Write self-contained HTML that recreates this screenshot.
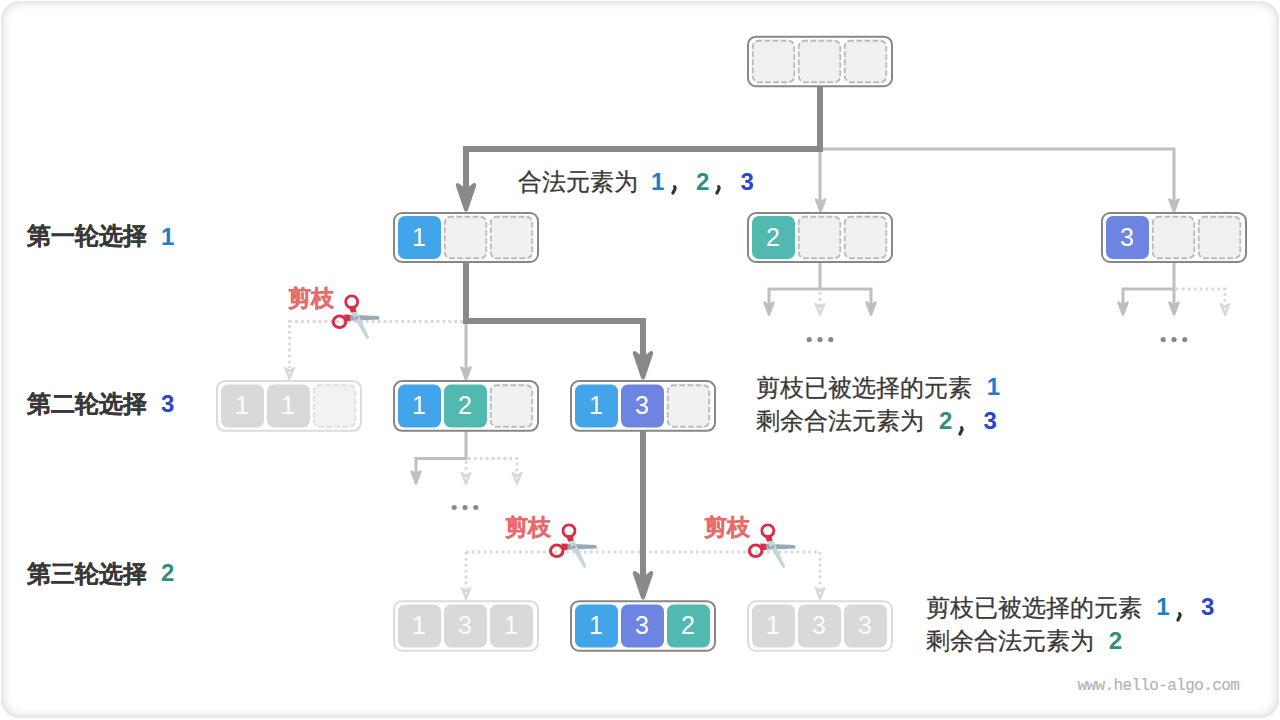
<!DOCTYPE html>
<html><head><meta charset="utf-8">
<style>
html,body{margin:0;padding:0;background:#fff;}
body{width:1280px;height:720px;position:relative;overflow:hidden;font-family:"Liberation Sans",sans-serif;}
.frame{position:absolute;left:1px;top:1px;width:1278px;height:717px;border-radius:19px;box-shadow:inset 0 0 11px rgba(0,0,0,0.21);}
svg{position:absolute;left:0;top:0;}
.cell{font-family:"Liberation Sans",sans-serif;font-size:25px;}
.t{position:absolute;white-space:nowrap;font-size:24px;line-height:24px;color:#383838;-webkit-text-stroke:0.25px #383838;}
.b{font-weight:bold;-webkit-text-stroke:0.15px #383838;}
.d{position:absolute;font-size:24px;line-height:24px;font-weight:bold;}
.cm{position:absolute;font-size:26px;line-height:26px;font-weight:bold;color:#333;}
.m{font-family:"Liberation Mono",monospace;font-weight:bold;}
.cb{color:#1a7fd0;} .ct{color:#2f8f7f;} .cp{color:#2b45c8;}
.cut{position:absolute;white-space:nowrap;font-size:23px;line-height:23px;font-weight:bold;color:#e96a6a;-webkit-text-stroke:0.35px #e96a6a;}
.wm{position:absolute;font-family:"Liberation Mono",monospace;font-size:16px;line-height:16px;letter-spacing:-0.62px;color:#b4b4b4;white-space:nowrap;-webkit-text-stroke:0.2px #b4b4b4;}
</style></head><body>
<div class="frame"></div>
<svg width="1280" height="720" viewBox="0 0 1280 720">
<path d="M820,149 H1174 V205 M820,149 V205" fill="none" stroke="#bfbfbf" stroke-width="3"/>
<path d="M816.0,199.5 L820.5,211.5 L825.0,199.5 L820.5,202.5 Z" fill="#bfbfbf" stroke="#bfbfbf" stroke-width="2.5" stroke-linejoin="round"/>
<path d="M1169.5,199.5 L1174,211.5 L1178.5,199.5 L1174,202.5 Z" fill="#bfbfbf" stroke="#bfbfbf" stroke-width="2.5" stroke-linejoin="round"/>
<path d="M820,86 V149 H466 V195" fill="none" stroke="#898989" stroke-width="6"/>
<path d="M457.75,185.0 L466,209.5 L474.25,185.0 L466,191.5 Z" fill="#898989" stroke="#898989" stroke-width="4" stroke-linejoin="round"/>
<path d="M820,262 V289 M769,305 V289 H871 V305" fill="none" stroke="#bfbfbf" stroke-width="3"/>
<path d="M764.5,302.5 L769,314.5 L773.5,302.5 L769,305.5 Z" fill="#bfbfbf" stroke="#bfbfbf" stroke-width="2.5" stroke-linejoin="round"/>
<path d="M866.5,302.5 L871,314.5 L875.5,302.5 L871,305.5 Z" fill="#bfbfbf" stroke="#bfbfbf" stroke-width="2.5" stroke-linejoin="round"/>
<path d="M815.4,303.8 L820,315.5 L824.6,303.8 L820,306.5 Z" fill="#d9d9d9" stroke="#d9d9d9" stroke-width="1.8" stroke-linejoin="round"/><path d="M818.9,308 L820,310.8 L821.1,308 Z" fill="#fff"/>
<path d="M820,292 V305" fill="none" stroke="#d9d9d9" stroke-width="2.8" stroke-dasharray="2.8 3.1"/>
<path d="M1174,262 V305 M1123,305 V289 H1174" fill="none" stroke="#bfbfbf" stroke-width="3"/>
<path d="M1118.5,302.5 L1123,314.5 L1127.5,302.5 L1123,305.5 Z" fill="#bfbfbf" stroke="#bfbfbf" stroke-width="2.5" stroke-linejoin="round"/>
<path d="M1169.5,302.5 L1174,314.5 L1178.5,302.5 L1174,305.5 Z" fill="#bfbfbf" stroke="#bfbfbf" stroke-width="2.5" stroke-linejoin="round"/>
<path d="M1176,289 H1225 V304" fill="none" stroke="#d9d9d9" stroke-width="2.8" stroke-dasharray="2.8 3.1"/>
<path d="M1220.4,303.8 L1225,315.5 L1229.6,303.8 L1225,306.5 Z" fill="#d9d9d9" stroke="#d9d9d9" stroke-width="1.8" stroke-linejoin="round"/><path d="M1223.9,308 L1225,310.8 L1226.1,308 Z" fill="#fff"/>
<circle cx="809.2" cy="339.5" r="2.6" fill="#888"/>
<circle cx="820" cy="339.5" r="2.6" fill="#888"/>
<circle cx="830.8" cy="339.5" r="2.6" fill="#888"/>
<circle cx="1163.2" cy="339.5" r="2.6" fill="#888"/>
<circle cx="1174" cy="339.5" r="2.6" fill="#888"/>
<circle cx="1184.8" cy="339.5" r="2.6" fill="#888"/>
<circle cx="454.2" cy="507.5" r="2.6" fill="#888"/>
<circle cx="465" cy="507.5" r="2.6" fill="#888"/>
<circle cx="475.8" cy="507.5" r="2.6" fill="#888"/>
<path d="M466,321 V370" fill="none" stroke="#bfbfbf" stroke-width="3"/>
<path d="M461.5,367.5 L466,379.5 L470.5,367.5 L466,370.5 Z" fill="#bfbfbf" stroke="#bfbfbf" stroke-width="2.5" stroke-linejoin="round"/>
<path d="M463,321.5 H289.5 V368" fill="none" stroke="#d9d9d9" stroke-width="2.8" stroke-dasharray="2.8 3.1"/>
<path d="M284.9,367.8 L289.5,379.5 L294.1,367.8 L289.5,370.5 Z" fill="#d9d9d9" stroke="#d9d9d9" stroke-width="1.8" stroke-linejoin="round"/><path d="M288.4,372 L289.5,374.8 L290.6,372 Z" fill="#fff"/>
<path d="M466,262 V321 H643 V360" fill="none" stroke="#898989" stroke-width="6"/>
<path d="M634.75,353.0 L643,377.5 L651.25,353.0 L643,359.5 Z" fill="#898989" stroke="#898989" stroke-width="4" stroke-linejoin="round"/>
<path d="M466,431 V458.5 H416 V474" fill="none" stroke="#bfbfbf" stroke-width="3"/>
<path d="M411.5,471.5 L416,483.5 L420.5,471.5 L416,474.5 Z" fill="#bfbfbf" stroke="#bfbfbf" stroke-width="2.5" stroke-linejoin="round"/>
<path d="M468,458.5 H517 V472 M466,461 V472" fill="none" stroke="#d9d9d9" stroke-width="2.8" stroke-dasharray="2.8 3.1"/>
<path d="M461.4,472.8 L466,484.5 L470.6,472.8 L466,475.5 Z" fill="#d9d9d9" stroke="#d9d9d9" stroke-width="1.8" stroke-linejoin="round"/><path d="M464.9,477 L466,479.8 L467.1,477 Z" fill="#fff"/>
<path d="M512.4,472.8 L517,484.5 L521.6,472.8 L517,475.5 Z" fill="#d9d9d9" stroke="#d9d9d9" stroke-width="1.8" stroke-linejoin="round"/><path d="M515.9,477 L517,479.8 L518.1,477 Z" fill="#fff"/>
<path d="M466,552 H820 M466,552 V588 M820,552 V588" fill="none" stroke="#d9d9d9" stroke-width="2.8" stroke-dasharray="2.8 3.1"/>
<path d="M461.4,587.8 L466,599.5 L470.6,587.8 L466,590.5 Z" fill="#d9d9d9" stroke="#d9d9d9" stroke-width="1.8" stroke-linejoin="round"/><path d="M464.9,592 L466,594.8 L467.1,592 Z" fill="#fff"/>
<path d="M815.4,587.8 L820,599.5 L824.6,587.8 L820,590.5 Z" fill="#d9d9d9" stroke="#d9d9d9" stroke-width="1.8" stroke-linejoin="round"/><path d="M818.9,592 L820,594.8 L821.1,592 Z" fill="#fff"/>
<path d="M643,431 V580" fill="none" stroke="#898989" stroke-width="6"/>
<path d="M634.75,573.0 L643,597.5 L651.25,573.0 L643,579.5 Z" fill="#898989" stroke="#898989" stroke-width="4" stroke-linejoin="round"/>
<rect x="748" y="36.7" width="144" height="49.5" rx="8" fill="#fff" stroke="#878787" stroke-width="2"/>
<rect x="752.75" y="40.7" width="41.5" height="41.5" rx="6" fill="#f1f1f1" stroke="#bcbcbc" stroke-width="1.9" stroke-dasharray="5.8 2.3" stroke-dashoffset="2.5"/>
<rect x="798.75" y="40.7" width="41.5" height="41.5" rx="6" fill="#f1f1f1" stroke="#bcbcbc" stroke-width="1.9" stroke-dasharray="5.8 2.3" stroke-dashoffset="2.5"/>
<rect x="844.75" y="40.7" width="41.5" height="41.5" rx="6" fill="#f1f1f1" stroke="#bcbcbc" stroke-width="1.9" stroke-dasharray="5.8 2.3" stroke-dashoffset="2.5"/>
<rect x="394" y="213" width="144" height="49" rx="8" fill="#fff" stroke="#878787" stroke-width="2"/>
<rect x="398" y="216.0" width="43" height="43" rx="7" fill="#42a4e9"/>
<text x="419" y="245.5" text-anchor="middle" class="cell" fill="#fff">1</text>
<rect x="444.75" y="216.75" width="41.5" height="41.5" rx="6" fill="#f1f1f1" stroke="#bcbcbc" stroke-width="1.9" stroke-dasharray="5.8 2.3" stroke-dashoffset="2.5"/>
<rect x="490.75" y="216.75" width="41.5" height="41.5" rx="6" fill="#f1f1f1" stroke="#bcbcbc" stroke-width="1.9" stroke-dasharray="5.8 2.3" stroke-dashoffset="2.5"/>
<rect x="748" y="213" width="144" height="49" rx="8" fill="#fff" stroke="#878787" stroke-width="2"/>
<rect x="752" y="216.0" width="43" height="43" rx="7" fill="#52b9b0"/>
<text x="773" y="245.5" text-anchor="middle" class="cell" fill="#fff">2</text>
<rect x="798.75" y="216.75" width="41.5" height="41.5" rx="6" fill="#f1f1f1" stroke="#bcbcbc" stroke-width="1.9" stroke-dasharray="5.8 2.3" stroke-dashoffset="2.5"/>
<rect x="844.75" y="216.75" width="41.5" height="41.5" rx="6" fill="#f1f1f1" stroke="#bcbcbc" stroke-width="1.9" stroke-dasharray="5.8 2.3" stroke-dashoffset="2.5"/>
<rect x="1102" y="213" width="144" height="49" rx="8" fill="#fff" stroke="#878787" stroke-width="2"/>
<rect x="1106" y="216.0" width="43" height="43" rx="7" fill="#6d84e0"/>
<text x="1127" y="245.5" text-anchor="middle" class="cell" fill="#fff">3</text>
<rect x="1152.75" y="216.75" width="41.5" height="41.5" rx="6" fill="#f1f1f1" stroke="#bcbcbc" stroke-width="1.9" stroke-dasharray="5.8 2.3" stroke-dashoffset="2.5"/>
<rect x="1198.75" y="216.75" width="41.5" height="41.5" rx="6" fill="#f1f1f1" stroke="#bcbcbc" stroke-width="1.9" stroke-dasharray="5.8 2.3" stroke-dashoffset="2.5"/>
<rect x="217" y="381.1" width="144" height="49.7" rx="8" fill="#fff" stroke="#dcdcdc" stroke-width="2"/>
<rect x="221" y="384.45000000000005" width="43" height="43" rx="7" fill="#d9d9d9"/>
<text x="242" y="413.95000000000005" text-anchor="middle" class="cell" fill="#fcfcfc">1</text>
<rect x="267" y="384.45000000000005" width="43" height="43" rx="7" fill="#d9d9d9"/>
<text x="288" y="413.95000000000005" text-anchor="middle" class="cell" fill="#fcfcfc">1</text>
<rect x="313.75" y="385.20000000000005" width="41.5" height="41.5" rx="6" fill="#f2f2f2" stroke="#e0e0e0" stroke-width="1.9" stroke-dasharray="5.8 2.3" stroke-dashoffset="2.5"/>
<rect x="394" y="381.1" width="144" height="49.7" rx="8" fill="#fff" stroke="#878787" stroke-width="2"/>
<rect x="398" y="384.45000000000005" width="43" height="43" rx="7" fill="#42a4e9"/>
<text x="419" y="413.95000000000005" text-anchor="middle" class="cell" fill="#fff">1</text>
<rect x="444" y="384.45000000000005" width="43" height="43" rx="7" fill="#52b9b0"/>
<text x="465" y="413.95000000000005" text-anchor="middle" class="cell" fill="#fff">2</text>
<rect x="490.75" y="385.20000000000005" width="41.5" height="41.5" rx="6" fill="#f1f1f1" stroke="#bcbcbc" stroke-width="1.9" stroke-dasharray="5.8 2.3" stroke-dashoffset="2.5"/>
<rect x="571" y="381.1" width="144" height="49.7" rx="8" fill="#fff" stroke="#878787" stroke-width="2"/>
<rect x="575" y="384.45000000000005" width="43" height="43" rx="7" fill="#42a4e9"/>
<text x="596" y="413.95000000000005" text-anchor="middle" class="cell" fill="#fff">1</text>
<rect x="621" y="384.45000000000005" width="43" height="43" rx="7" fill="#6d84e0"/>
<text x="642" y="413.95000000000005" text-anchor="middle" class="cell" fill="#fff">3</text>
<rect x="667.75" y="385.20000000000005" width="41.5" height="41.5" rx="6" fill="#f1f1f1" stroke="#bcbcbc" stroke-width="1.9" stroke-dasharray="5.8 2.3" stroke-dashoffset="2.5"/>
<rect x="394" y="601.2" width="144" height="49.5" rx="8" fill="#fff" stroke="#dcdcdc" stroke-width="2"/>
<rect x="398" y="604.45" width="43" height="43" rx="7" fill="#d9d9d9"/>
<text x="419" y="633.95" text-anchor="middle" class="cell" fill="#fcfcfc">1</text>
<rect x="444" y="604.45" width="43" height="43" rx="7" fill="#d9d9d9"/>
<text x="465" y="633.95" text-anchor="middle" class="cell" fill="#fcfcfc">3</text>
<rect x="490" y="604.45" width="43" height="43" rx="7" fill="#d9d9d9"/>
<text x="511" y="633.95" text-anchor="middle" class="cell" fill="#fcfcfc">1</text>
<rect x="571" y="601.2" width="144" height="49.5" rx="8" fill="#fff" stroke="#878787" stroke-width="2"/>
<rect x="575" y="604.45" width="43" height="43" rx="7" fill="#42a4e9"/>
<text x="596" y="633.95" text-anchor="middle" class="cell" fill="#fff">1</text>
<rect x="621" y="604.45" width="43" height="43" rx="7" fill="#6d84e0"/>
<text x="642" y="633.95" text-anchor="middle" class="cell" fill="#fff">3</text>
<rect x="667" y="604.45" width="43" height="43" rx="7" fill="#52b9b0"/>
<text x="688" y="633.95" text-anchor="middle" class="cell" fill="#fff">2</text>
<rect x="748" y="601.2" width="144" height="49.5" rx="8" fill="#fff" stroke="#dcdcdc" stroke-width="2"/>
<rect x="752" y="604.45" width="43" height="43" rx="7" fill="#d9d9d9"/>
<text x="773" y="633.95" text-anchor="middle" class="cell" fill="#fcfcfc">1</text>
<rect x="798" y="604.45" width="43" height="43" rx="7" fill="#d9d9d9"/>
<text x="819" y="633.95" text-anchor="middle" class="cell" fill="#fcfcfc">3</text>
<rect x="844" y="604.45" width="43" height="43" rx="7" fill="#d9d9d9"/>
<text x="865" y="633.95" text-anchor="middle" class="cell" fill="#fcfcfc">3</text>
<g transform="translate(356.7,318)">
<path d="M-7.8,-3.2 L21.7,-1.9 Q23.4,-0.2 22.7,1.6 L-6.8,2.8 Z" fill="#98aab5"/>
<path d="M-12.5,-3.6 L-6.5,-3.2 L-6.5,2.8 L-12,3.4 Z" fill="#dc2d46"/>
<ellipse cx="-17.2" cy="3.8" rx="6.3" ry="5.7" fill="none" stroke="#dc2d46" stroke-width="3"/>
<path d="M-6,-6 L-0.2,-7.5 L12.4,19.2 Q11.8,21.4 10,20.9 Z" fill="#c7d4dc"/>
<path d="M-8.2,-12 L-1.4,-12 L-0.4,-6.2 L-5.8,-5.6 Z" fill="#dc2d46"/>
<circle cx="-5" cy="-16.2" r="6" fill="none" stroke="#dc2d46" stroke-width="2.8"/>
<circle cx="0" cy="0" r="1.4" fill="#8a9ca7"/>
</g>
<g transform="translate(574,547)">
<path d="M-7.8,-3.2 L21.7,-1.9 Q23.4,-0.2 22.7,1.6 L-6.8,2.8 Z" fill="#98aab5"/>
<path d="M-12.5,-3.6 L-6.5,-3.2 L-6.5,2.8 L-12,3.4 Z" fill="#dc2d46"/>
<ellipse cx="-17.2" cy="3.8" rx="6.3" ry="5.7" fill="none" stroke="#dc2d46" stroke-width="3"/>
<path d="M-6,-6 L-0.2,-7.5 L12.4,19.2 Q11.8,21.4 10,20.9 Z" fill="#c7d4dc"/>
<path d="M-8.2,-12 L-1.4,-12 L-0.4,-6.2 L-5.8,-5.6 Z" fill="#dc2d46"/>
<circle cx="-5" cy="-16.2" r="6" fill="none" stroke="#dc2d46" stroke-width="2.8"/>
<circle cx="0" cy="0" r="1.4" fill="#8a9ca7"/>
</g>
<g transform="translate(772.8,547)">
<path d="M-7.8,-3.2 L21.7,-1.9 Q23.4,-0.2 22.7,1.6 L-6.8,2.8 Z" fill="#98aab5"/>
<path d="M-12.5,-3.6 L-6.5,-3.2 L-6.5,2.8 L-12,3.4 Z" fill="#dc2d46"/>
<ellipse cx="-17.2" cy="3.8" rx="6.3" ry="5.7" fill="none" stroke="#dc2d46" stroke-width="3"/>
<path d="M-6,-6 L-0.2,-7.5 L12.4,19.2 Q11.8,21.4 10,20.9 Z" fill="#c7d4dc"/>
<path d="M-8.2,-12 L-1.4,-12 L-0.4,-6.2 L-5.8,-5.6 Z" fill="#dc2d46"/>
<circle cx="-5" cy="-16.2" r="6" fill="none" stroke="#dc2d46" stroke-width="2.8"/>
<circle cx="0" cy="0" r="1.4" fill="#8a9ca7"/>
</g>
</svg>
<div class="t b" style="left:27px;top:224px;">第一轮选择</div>
<div class="t b" style="left:27px;top:392px;">第二轮选择</div>
<div class="t b" style="left:27px;top:562px;">第三轮选择</div>
<div class="t" style="left:518px;top:169.8px;">合法元素为</div>
<div class="t" style="left:756px;top:376px;">剪枝已被选择的元素</div>
<div class="t" style="left:756px;top:409px;">剩余合法元素为</div>
<div class="t" style="left:926px;top:596px;">剪枝已被选择的元素</div>
<div class="t" style="left:926px;top:629px;">剩余合法元素为</div>
<div class="d" style="left:161px;top:224.6px;color:#1a7fd0;">1</div>
<div class="d" style="left:161px;top:392px;color:#2b45c8;">3</div>
<div class="d" style="left:161px;top:561px;color:#2f8f7f;">2</div>
<div class="d" style="left:651px;top:169.5px;color:#1a7fd0;">1</div>
<div class="d" style="left:696px;top:169.5px;color:#2f8f7f;">2</div>
<div class="d" style="left:740.5px;top:169.5px;color:#2b45c8;">3</div>
<svg width="10" height="12" style="left:669.5px;top:183.8px;"><path d="M4.6,2.6 Q5.5,3.4 5,5 L2.9,9" fill="none" stroke="#333" stroke-width="3.2" stroke-linecap="round"/></svg>
<svg width="10" height="12" style="left:714px;top:183.8px;"><path d="M4.6,2.6 Q5.5,3.4 5,5 L2.9,9" fill="none" stroke="#333" stroke-width="3.2" stroke-linecap="round"/></svg>
<div class="d" style="left:986.8px;top:375.3px;color:#1a7fd0;">1</div>
<div class="d" style="left:939px;top:409.3px;color:#2f8f7f;">2</div>
<svg width="10" height="12" style="left:956.7px;top:424.7px;"><path d="M4.6,2.6 Q5.5,3.4 5,5 L2.9,9" fill="none" stroke="#333" stroke-width="3.2" stroke-linecap="round"/></svg>
<div class="d" style="left:983.5px;top:409.3px;color:#2b45c8;">3</div>
<div class="d" style="left:1156.3px;top:595.3px;color:#1a7fd0;">1</div>
<svg width="10" height="12" style="left:1174.8px;top:611.1999999999999px;"><path d="M4.6,2.6 Q5.5,3.4 5,5 L2.9,9" fill="none" stroke="#333" stroke-width="3.2" stroke-linecap="round"/></svg>
<div class="d" style="left:1201px;top:595.3px;color:#2b45c8;">3</div>
<div class="d" style="left:1108.7px;top:629.3px;color:#2f8f7f;">2</div>
<div class="cut" style="left:288px;top:286.5px;">剪枝</div>
<div class="cut" style="left:505px;top:516px;">剪枝</div>
<div class="cut" style="left:704px;top:516px;">剪枝</div>
<div class="wm" style="left:1077.5px;top:677.5px;">www.hello-algo.com</div>
</body></html>
